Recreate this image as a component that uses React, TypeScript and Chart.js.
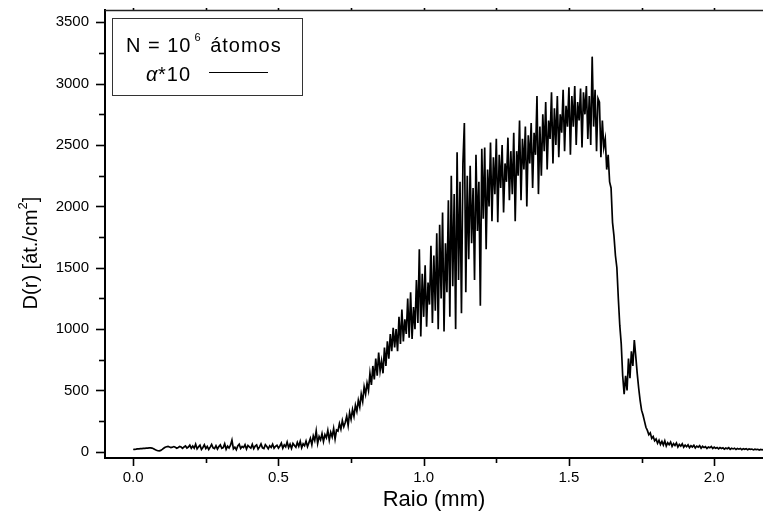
import React, { useEffect, useRef } from "react";
import { Chart, registerables } from "chart.js";

Chart.register(...registerables);

// Radius grid (mm): evenly spaced samples starting at 0
const RADIUS_START_MM = 0;
const RADIUS_STEP_MM = 0.005;

// D(r) [át./cm²], one value per radius sample
const D_VALUES: number[] = [
  19, 21, 22, 24, 25, 26, 27, 28, 29, 30,
  31, 32, 33, 31, 26, 19, 13, 9, 8, 12,
  20, 29, 37, 42, 44, 40, 35, 38, 43, 37,
  30, 36, 44, 39, 28, 40, 48, 31, 39, 55,
  29, 47, 30, 62, 24, 41, 55, 20, 36, 58,
  27, 44, 19, 39, 61, 33, 26, 50, 22, 43,
  57, 29, 35, 66, 21, 46, 31, 54, 95, 24,
  38, 17, 49, 63, 28, 44, 35, 59, 23, 52,
  40, 30, 61, 26, 47, 56, 22, 41, 65, 33,
  27, 58, 44, 25, 50, 36, 62, 29, 45, 54,
  31, 48, 72, 30, 57, 41, 80, 35, 63, 28,
  69, 52, 38, 77, 45, 85, 33, 66, 50, 88,
  42, 75, 110, 58, 130, 92, 170, 68, 125, 98,
  148, 84, 140, 115, 175, 96, 160, 122, 190, 105,
  178, 170, 230, 185, 255, 205, 240, 290, 215, 320,
  265, 345, 290, 380, 330, 420, 365, 470, 410, 530,
  470, 560, 500, 640, 545, 700, 590, 760, 620, 810,
  660, 740, 640, 850, 700, 900, 760, 960, 820, 1010,
  850, 1000, 820, 1100, 880, 1160, 900, 1080, 960, 1250,
  930, 1300, 920, 1180, 1000, 1400, 1050, 1650, 940, 1450,
  1100, 1520, 1020, 1380, 1200, 1680, 1050, 1600, 1150, 1780,
  1000, 1850, 1250, 1950, 980, 1700, 1300, 2050, 1100, 2250,
  1350, 2100, 1000, 2440, 1400, 2200, 1130, 2350, 2680, 1300,
  2250, 1570, 2330, 1700, 2150, 1400, 2420, 1800, 2200, 1190,
  2470, 1900, 2480, 1650, 2300, 2000, 2520, 1880, 2400, 2100,
  2550, 1870, 2420, 2150, 2500, 1950, 2350, 2200, 2560, 2050,
  2450, 2100, 2600, 1880, 2450, 2250, 2700, 2050, 2550, 2300,
  2650, 2000, 2580, 2350, 2680, 2150, 2600, 2420, 2900, 2100,
  2650, 2250, 2750, 2450, 2850, 2300, 2700, 2550, 2930, 2350,
  2800, 2500, 2900, 2400, 2750, 2600, 2950, 2450, 2820, 2650,
  2970, 2420, 2900, 2650, 2980, 2500, 2850, 2700, 2960, 2480,
  2930, 2750, 2980, 2550, 2900, 2500, 3220, 2650, 2950, 2450,
  2880, 2850, 2400, 2700, 2480, 2550, 2300, 2420, 2200, 2150,
  1870, 1760, 1600, 1500, 1250, 1030, 880, 620, 470, 620,
  500, 760, 600, 820, 700, 910, 780, 640, 520, 420,
  340, 300, 250, 200, 175, 140, 155, 110, 125, 90,
  105, 70, 95, 60, 85, 55, 90, 48, 75, 58,
  80, 45, 68, 52, 72, 40, 60, 47, 66, 38,
  55, 42, 58, 35, 50, 40, 54, 32, 47, 38,
  50, 30, 45, 35, 42, 28, 40, 33, 44, 27,
  38, 30, 36, 24, 35, 28, 33, 22, 31, 26,
  34, 20, 29, 24, 30, 19, 27, 22, 28, 18,
  25, 21, 26, 17, 24, 20, 23, 16, 22, 19,
  21, 15, 20, 17, 19,
];

const X_MIN = -0.097;
const X_MAX = 2.168;
const X_MINOR_STEP = 0.25;
const X_MAJOR_STEP = 0.5;
const Y_MIN = -50;
const Y_MAX = 3600;
const Y_MINOR_STEP = 250;
const Y_MAJOR_STEP = 500;

const X_TITLE = "Raio (mm)";
const Y_TITLE_MAIN = "D(r) [át./cm";
const Y_TITLE_SUP = "2";
const Y_TITLE_END = "]";
const LEGEND_LINE1 = ["N = 10", "6", " átomos"];
const LEGEND_SERIES = ["α", "*10"];

const FONT = "'Liberation Sans', Arial, Helvetica, sans-serif";

const isMajor = (v: number, step: number) => {
  const r = v / step;
  return Math.abs(r - Math.round(r)) < 1e-6;
};

const decorPlugin = {
  id: "decor",
  afterDraw(chart: any) {
    const { ctx, chartArea: ca, scales } = chart;
    const x = scales.x;
    const y = scales.y;
    ctx.save();
    ctx.strokeStyle = "#000";
    ctx.lineWidth = 1.6;
    // y ticks (outside)
    y.ticks.forEach((t: any) => {
      const py = Math.round(y.getPixelForValue(t.value)) + 0.5;
      const len = isMajor(t.value, Y_MAJOR_STEP) ? 9 : 6;
      ctx.beginPath();
      ctx.moveTo(ca.left - len, py);
      ctx.lineTo(ca.left, py);
      ctx.stroke();
    });
    // x ticks (outside bottom) and tiny top ticks
    x.ticks.forEach((t: any) => {
      const px = Math.round(x.getPixelForValue(t.value)) + 0.5;
      const len = isMajor(t.value, X_MAJOR_STEP) ? 8 : 5;
      ctx.beginPath();
      ctx.moveTo(px, ca.bottom);
      ctx.lineTo(px, ca.bottom + len);
      ctx.stroke();
      ctx.beginPath();
      ctx.moveTo(px, ca.top - 2);
      ctx.lineTo(px, ca.top);
      ctx.stroke();
    });
    // top frame line
    ctx.strokeStyle = "#222";
    ctx.lineWidth = 1.4;
    ctx.beginPath();
    ctx.moveTo(ca.left, ca.top + 0.5);
    ctx.lineTo(ca.right, ca.top + 0.5);
    ctx.stroke();

    // legend box
    ctx.strokeStyle = "#333";
    ctx.lineWidth = 1;
    ctx.strokeRect(112.5, 18.5, 190, 77);
    ctx.fillStyle = "#000";
    ctx.textBaseline = "alphabetic";
    ctx.textAlign = "left";
    try { (ctx as any).letterSpacing = "1px"; } catch (e) {}
    ctx.font = `20px ${FONT}`;
    let lx = 126;
    ctx.fillText(LEGEND_LINE1[0], lx, 52);
    lx += ctx.measureText(LEGEND_LINE1[0]).width + 3;
    ctx.font = `11px ${FONT}`;
    ctx.fillText(LEGEND_LINE1[1], lx, 41);
    lx += ctx.measureText(LEGEND_LINE1[1]).width + 2;
    ctx.font = `20px ${FONT}`;
    ctx.fillText(LEGEND_LINE1[2], lx, 52);
    ctx.font = `italic 20px ${FONT}`;
    ctx.fillText(LEGEND_SERIES[0], 146, 81);
    ctx.font = `20px ${FONT}`;
    ctx.fillText(LEGEND_SERIES[1], 158, 81);
    try { (ctx as any).letterSpacing = "0px"; } catch (e) {}
    ctx.strokeStyle = "#000";
    ctx.lineWidth = 1;
    ctx.beginPath();
    ctx.moveTo(209, 72.5);
    ctx.lineTo(268, 72.5);
    ctx.stroke();

    // y title rotated
    ctx.save();
    ctx.translate(30, 253);
    ctx.rotate(-Math.PI / 2);
    ctx.font = `20px ${FONT}`;
    const w1 = ctx.measureText(Y_TITLE_MAIN).width;
    ctx.font = `13px ${FONT}`;
    const w2 = ctx.measureText(Y_TITLE_SUP).width;
    ctx.font = `20px ${FONT}`;
    const w3 = ctx.measureText(Y_TITLE_END).width;
    const total = w1 + w2 + w3;
    let sx = -total / 2;
    const base = 7;
    ctx.fillText(Y_TITLE_MAIN, sx, base);
    sx += w1;
    ctx.font = `13px ${FONT}`;
    ctx.fillText(Y_TITLE_SUP, sx, base - 10);
    sx += w2;
    ctx.font = `20px ${FONT}`;
    ctx.fillText(Y_TITLE_END, sx, base);
    ctx.restore();

    ctx.restore();
  },
};

export default function App() {
  const canvasRef = useRef<HTMLCanvasElement | null>(null);

  useEffect(() => {
    if (!canvasRef.current) return;
    const points = D_VALUES.map((v, i) => ({
      x: RADIUS_START_MM + i * RADIUS_STEP_MM,
      y: v,
    }));
    const chart = new Chart(canvasRef.current, {
      type: "line",
      data: {
        datasets: [
          {
            label: "α*10",
            data: points,
            borderColor: "#000",
            borderWidth: 1.7,
            pointRadius: 0,
            tension: 0,
            fill: false,
          },
        ],
      },
      options: {
        animation: false,
        responsive: false,
        parsing: false,
        normalized: true,
        layout: { padding: { top: 10, right: 0, left: 0, bottom: 0 } },
        plugins: {
          legend: { display: false },
          tooltip: { enabled: false },
        },
        scales: {
          x: {
            type: "linear",
            min: X_MIN,
            max: X_MAX,
            afterFit: (s: any) => {
              s.height = 55;
              s.paddingLeft = 0;
              s.paddingRight = 0;
            },
            grid: { display: false, drawTicks: false },
            border: { display: true, color: "#000", width: 2 },
            ticks: {
              stepSize: X_MINOR_STEP,
              includeBounds: false,
              autoSkip: false,
              maxRotation: 0,
              padding: 11,
              color: "#000",
              font: { family: FONT, size: 15 },
              callback: (v: any) =>
                isMajor(Number(v), X_MAJOR_STEP) ? Number(v).toFixed(1) : "",
            },
            title: {
              display: true,
              text: X_TITLE,
              color: "#000",
              font: { family: FONT, size: 22 },
              padding: { top: 0, bottom: 0 },
            },
          },
          y: {
            type: "linear",
            min: Y_MIN,
            max: Y_MAX,
            afterFit: (s: any) => {
              s.width = 105;
              s.paddingTop = 0;
              s.paddingBottom = 0;
            },
            grid: { display: false, drawTicks: false },
            border: { display: true, color: "#000", width: 2 },
            ticks: {
              stepSize: Y_MINOR_STEP,
              includeBounds: false,
              autoSkip: false,
              padding: 16,
              color: "#000",
              font: { family: FONT, size: 15 },
              callback: (v: any) =>
                isMajor(Number(v), Y_MAJOR_STEP) ? String(v) : "",
            },
          },
        },
      },
      plugins: [decorPlugin],
    });
    return () => chart.destroy();
  }, []);

  return (
    <div style={{ position: "fixed", left: 0, top: 0, width: 763, height: 513, background: "#fff" }}>
      <canvas ref={canvasRef} width={763} height={513} style={{ display: "block" }} />
    </div>
  );
}
